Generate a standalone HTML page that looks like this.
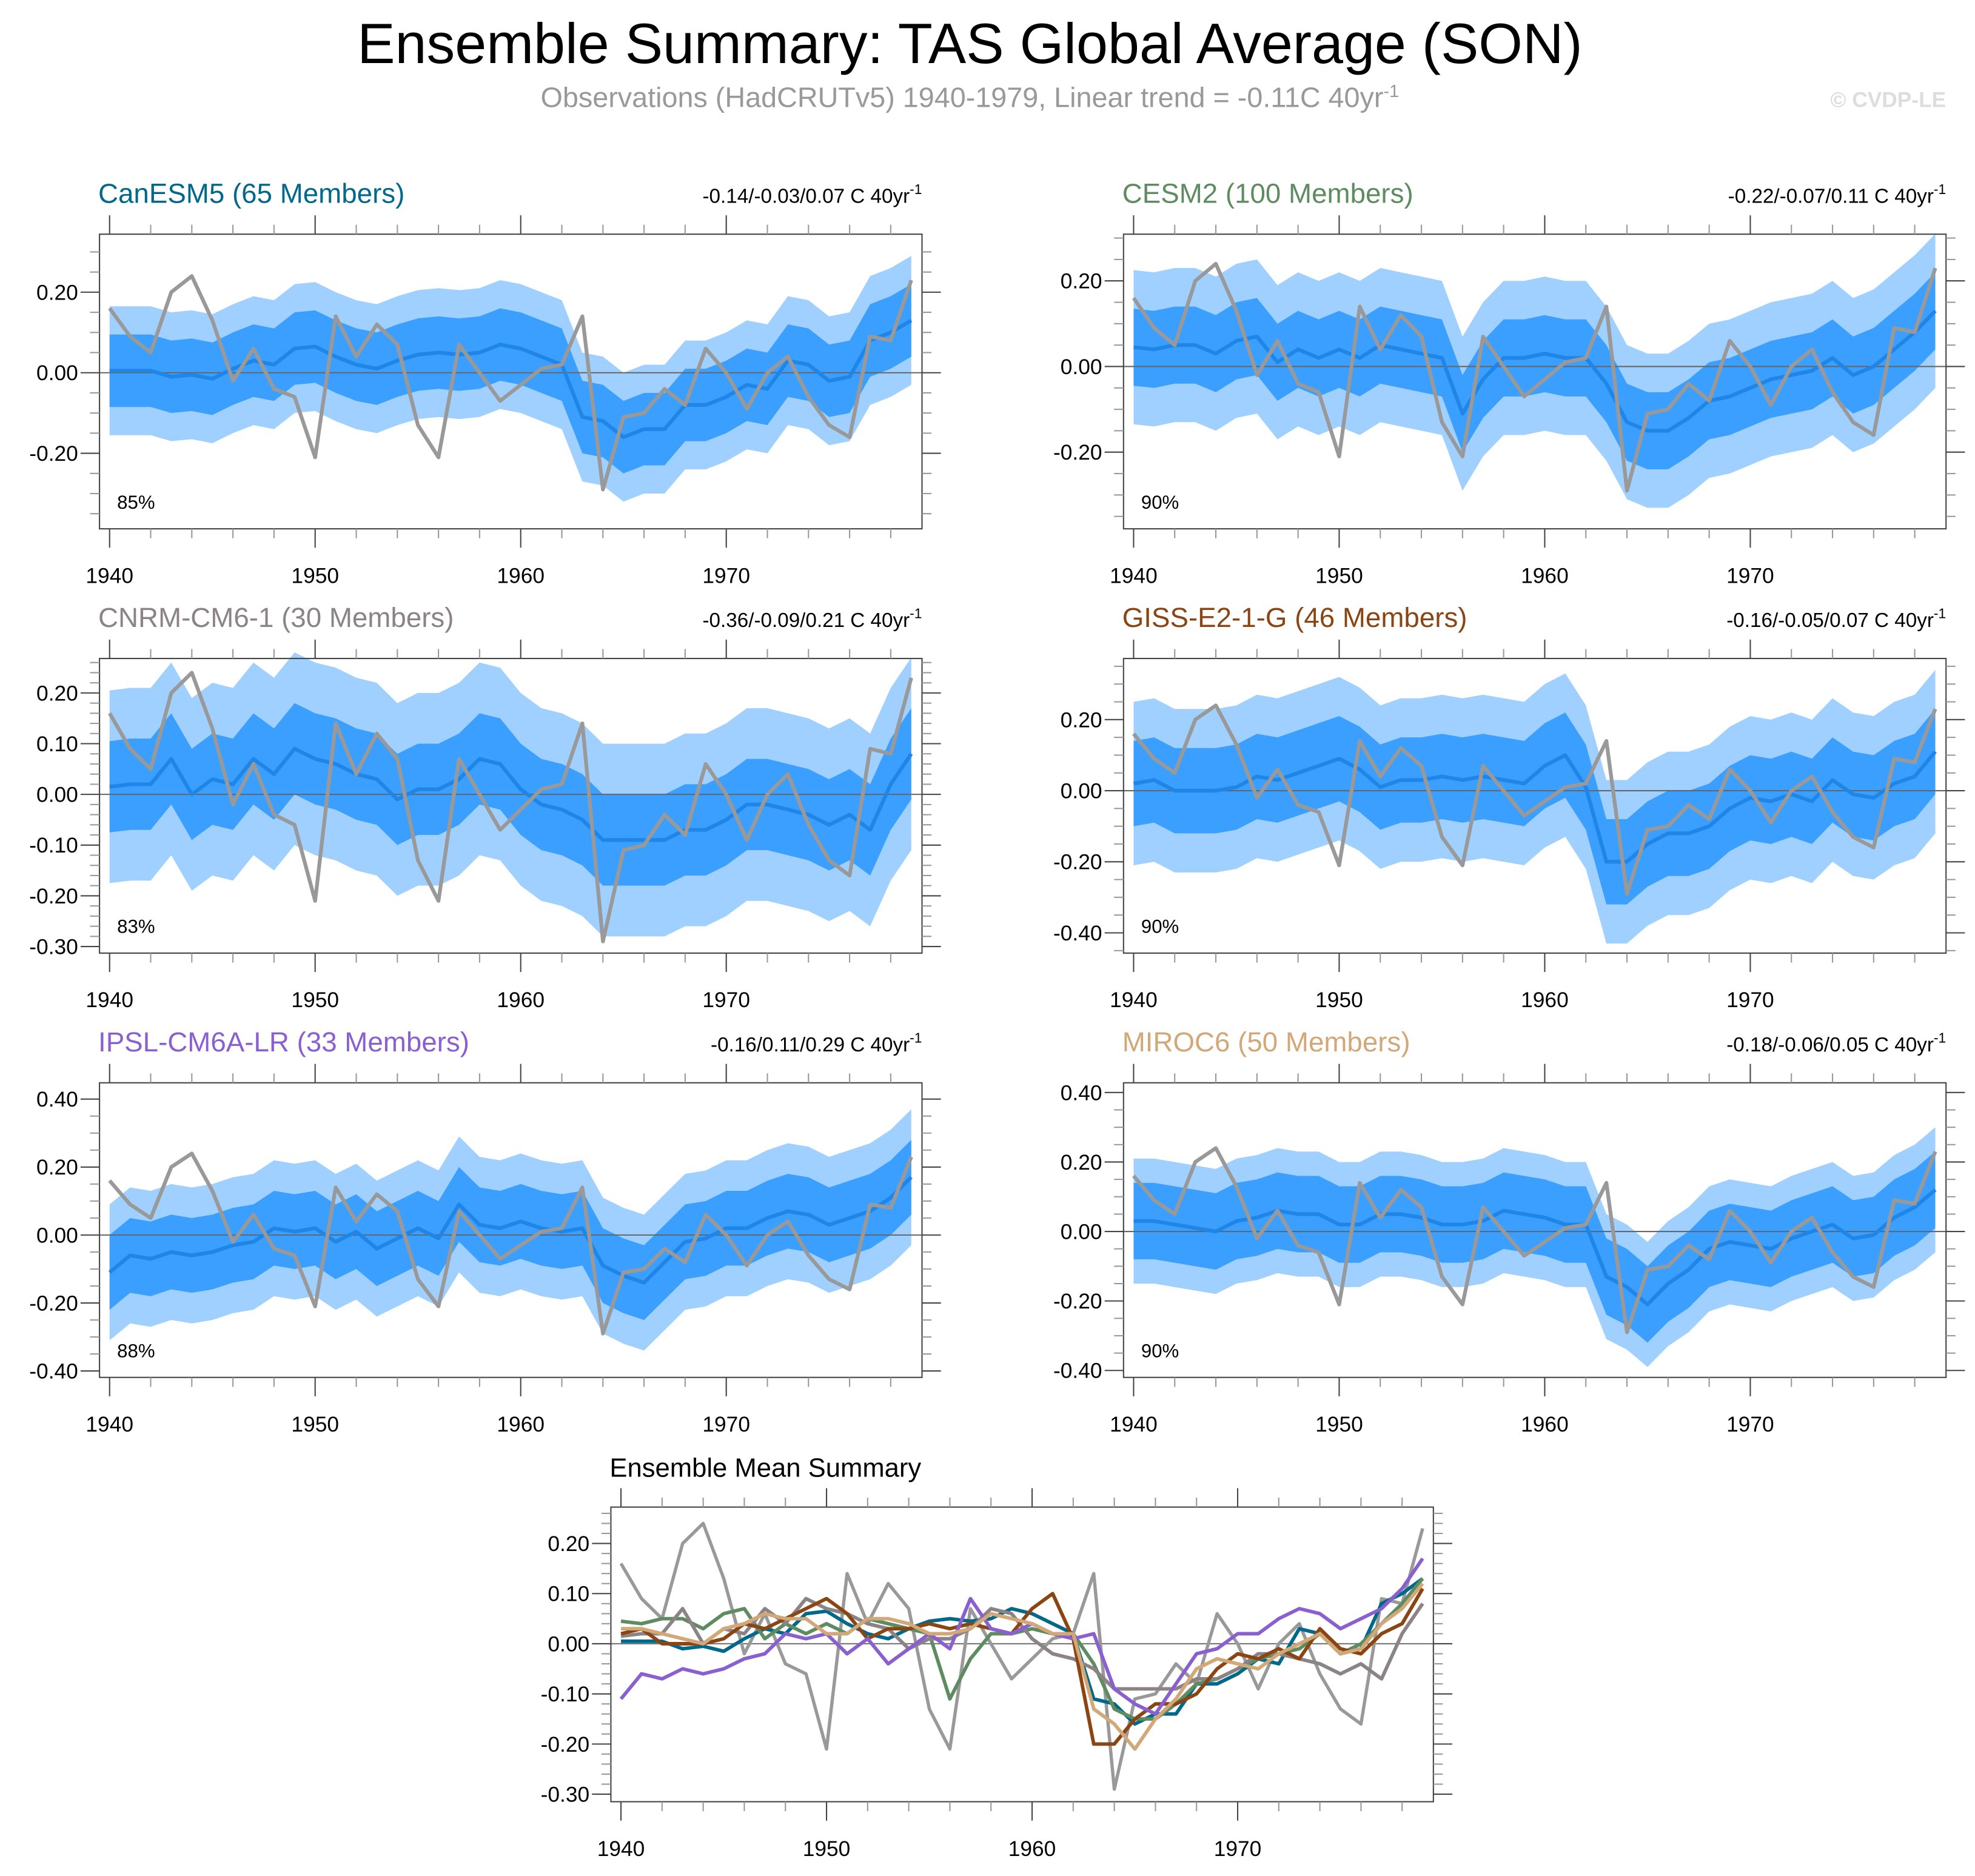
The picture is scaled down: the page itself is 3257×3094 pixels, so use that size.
<!DOCTYPE html>
<html><head><meta charset="utf-8"><title>Ensemble Summary</title>
<style>html,body{margin:0;padding:0;background:#fff}svg{display:block}text{font-family:"Liberation Sans",sans-serif}</style>
</head><body>
<svg id="chart" xmlns="http://www.w3.org/2000/svg" width="3257" height="3094" viewBox="0 0 1568 1490" preserveAspectRatio="none">
<text x="770" y="50" font-size="45" text-anchor="middle" fill="#000">Ensemble Summary: TAS Global Average (SON)</text>
<text x="770" y="85" font-size="22.5" text-anchor="middle" fill="#999">Observations (HadCRUTv5) 1940-1979, Linear trend = -0.11C 40yr<tspan dy="-8" font-size="14">-1</tspan></text>
<text x="1545" y="85" font-size="17" font-weight="bold" text-anchor="end" fill="#ddd">© CVDP-LE</text>
<g id="plots"></g>
</svg>
<script>
const years = [];
for (let y = 1940; y <= 1979; y++) years.push(y);
const obs = [0.16,0.09,0.05,0.20,0.24,0.13,-0.02,0.06,-0.04,-0.06,-0.21,0.14,0.04,0.12,0.07,-0.13,-0.21,0.07,0.00,-0.07,-0.03,0.01,0.02,0.14,-0.29,-0.11,-0.10,-0.04,-0.08,0.06,0.00,-0.09,0.00,0.04,-0.06,-0.13,-0.16,0.09,0.08,0.23];
const meanCanESM5 = [0.005,0.005,0.005,-0.01,-0.005,-0.015,0.01,0.03,0.02,0.06,0.065,0.04,0.02,0.01,0.03,0.045,0.05,0.045,0.05,0.07,0.06,0.04,0.02,-0.11,-0.12,-0.16,-0.14,-0.14,-0.08,-0.08,-0.06,-0.03,-0.04,0.03,0.02,-0.02,-0.01,0.08,0.10,0.13];
const meanCESM2 = [0.045,0.04,0.05,0.05,0.03,0.06,0.07,0.01,0.04,0.02,0.04,0.02,0.05,0.04,0.03,0.02,-0.11,-0.03,0.02,0.02,0.03,0.02,0.02,-0.04,-0.13,-0.15,-0.15,-0.12,-0.08,-0.07,-0.05,-0.03,-0.02,-0.01,0.02,-0.02,0.00,0.04,0.08,0.13];
const meanCNRM = [0.015,0.02,0.02,0.07,0.0,0.03,0.02,0.07,0.04,0.09,0.07,0.06,0.04,0.03,-0.01,0.01,0.01,0.03,0.07,0.06,0.01,-0.02,-0.03,-0.05,-0.09,-0.09,-0.09,-0.09,-0.07,-0.07,-0.05,-0.02,-0.02,-0.03,-0.04,-0.06,-0.04,-0.07,0.02,0.08];
const meanGISS = [0.02,0.03,0.0,0.0,0.0,0.01,0.04,0.03,0.05,0.07,0.09,0.06,0.01,0.03,0.03,0.04,0.03,0.04,0.03,0.02,0.07,0.10,0.01,-0.20,-0.20,-0.15,-0.12,-0.12,-0.10,-0.05,-0.02,-0.03,-0.01,-0.03,0.03,-0.01,-0.02,0.02,0.04,0.11];
const meanIPSL = [-0.11,-0.06,-0.07,-0.05,-0.06,-0.05,-0.03,-0.02,0.02,0.01,0.02,-0.02,0.01,-0.04,-0.01,0.02,-0.01,0.09,0.03,0.02,0.04,0.02,0.01,0.02,-0.09,-0.12,-0.14,-0.08,-0.02,-0.01,0.02,0.02,0.05,0.07,0.06,0.03,0.05,0.07,0.11,0.17];
const meanMIROC6 = [0.03,0.03,0.02,0.01,0.0,0.03,0.04,0.06,0.05,0.05,0.02,0.02,0.05,0.05,0.04,0.02,0.02,0.03,0.06,0.05,0.04,0.02,0.02,-0.13,-0.16,-0.21,-0.15,-0.11,-0.05,-0.03,-0.04,-0.05,-0.02,0.0,0.02,-0.02,-0.01,0.04,0.07,0.12];
const innerSpread = [0.09,0.09,0.09,0.12,0.11,0.11];
const outerSpread = [0.16,0.18,0.19,0.23,0.20,0.18];
const modelNames = ["CanESM5 (65 Members)","CESM2 (100 Members)","CNRM-CM6-1 (30 Members)","GISS-E2-1-G (46 Members)","IPSL-CM6A-LR (33 Members)","MIROC6 (50 Members)"];
const trendLabels = ["-0.14/-0.03/0.07","-0.22/-0.07/0.11","-0.36/-0.09/0.21","-0.16/-0.05/0.07","-0.16/0.11/0.29","-0.18/-0.06/0.05"];
const pctLabels = ["85%","90%","83%","90%","88%","90%"];
const means = [meanCanESM5,meanCESM2,meanCNRM,meanGISS,meanIPSL,meanMIROC6];
const colors = ["#00688b","#5e8c60","#8b8385","#8b4513","#8a60d0","#d2a878"];

const NS = "http://www.w3.org/2000/svg";
const root = document.getElementById('plots');
function mk(tag, attrs, parent){const e=document.createElementNS(NS,tag);for(const k in attrs)e.setAttribute(k,attrs[k]);(parent||root).appendChild(e);return e;}

const panels = [
 {bx:79,by:186,yMin:-0.3875,yMax:0.344,major:0.2,minor:0.05},
 {bx:892,by:186,yMin:-0.379,yMax:0.309,major:0.2,minor:0.05},
 {bx:79,by:523,yMin:-0.313,yMax:0.268,major:0.1,minor:0.02},
 {bx:892,by:523,yMin:-0.457,yMax:0.372,major:0.2,minor:0.05},
 {bx:79,by:860,yMin:-0.419,yMax:0.448,major:0.2,minor:0.05},
 {bx:892,by:860,yMin:-0.42,yMax:0.428,major:0.2,minor:0.05}
];
const W=653,H=234;

function axes(g,p,xs,ys){
  const bx=p.bx,by=p.by;
  const nMin=Math.ceil(p.yMin/p.minor-1e-6), nMax=Math.floor(p.yMax/p.minor+1e-6);
  for(let i=nMin;i<=nMax;i++){
    const v=i*p.minor; const y=ys(v);
    const isMaj=Math.abs(v/p.major-Math.round(v/p.major))<1e-6;
    const L=isMaj?15:7.5;
    mk('line',{x1:bx-L,x2:bx,y1:y,y2:y,stroke:isMaj?'#444':'#999','stroke-width':1},g);
    mk('line',{x1:bx+W,x2:bx+W+L,y1:y,y2:y,stroke:isMaj?'#444':'#999','stroke-width':1},g);
    if(isMaj){const t=mk('text',{x:bx-17,y:y+6,'font-size':17,'text-anchor':'end',fill:'#000'},g);t.textContent=v.toFixed(2);
      
      }
  }
  for(let yr=1940;yr<=1979;yr+=2){
    const x=xs(yr);const maj=yr%10===0;const L=maj?15:7.5;
    mk('line',{x1:x,x2:x,y1:by-L,y2:by,stroke:maj?'#444':'#999','stroke-width':1},g);
    mk('line',{x1:x,x2:x,y1:by+H,y2:by+H+L,stroke:maj?'#444':'#999','stroke-width':1},g);
    if(maj){const t=mk('text',{x:x,y:by+H+43,'font-size':17,'text-anchor':'middle',fill:'#000'},g);t.textContent=yr;
      
      }
  }
}
function linePath(arr,xs,ys){return arr.map((v,i)=>(i?'L':'M')+xs(years[i]).toFixed(2)+','+ys(v).toFixed(2)).join('');}
function bandPath(arr,w,xs,ys){
  let d=arr.map((v,i)=>(i?'L':'M')+xs(years[i]).toFixed(2)+','+ys(v+w).toFixed(2)).join('');
  for(let i=arr.length-1;i>=0;i--)d+='L'+xs(years[i]).toFixed(2)+','+ys(arr[i]-w).toFixed(2);
  return d+'Z';
}

panels.forEach((p,k)=>{
  const g=mk('g',{});
  
  
  const xs=yr=>p.bx+8+(yr-1940)*16.32;
  const ys=v=>p.by+(p.yMax-v)/(p.yMax-p.yMin)*H;
  const t=mk('text',{x:p.bx-1,y:p.by-25,'font-size':22,fill:colors[k]},g);t.textContent=modelNames[k];
  
  
  const tr=mk('text',{x:p.bx+W,y:p.by-25,'font-size':16,'text-anchor':'end',fill:'#000'},g);
  tr.innerHTML=trendLabels[k]+' C 40yr<tspan dy="-7" font-size="11">-1</tspan>';
  
  
  const ob=mk('path',{d:bandPath(means[k],outerSpread[k],xs,ys),fill:'#a0d0ff'},g);
  
  
  const ib=mk('path',{d:bandPath(means[k],innerSpread[k],xs,ys),fill:'#3a9fff'},g);
  
  
  mk('line',{x1:p.bx,x2:p.bx+W,y1:ys(0),y2:ys(0),stroke:'#666','stroke-width':1},g);
  const ml=mk('path',{d:linePath(means[k],xs,ys),fill:'none',stroke:'#1f86e8','stroke-width':3,'stroke-linejoin':'round'},g);
  
  
  const ol=mk('path',{d:linePath(obs,xs,ys),fill:'none',stroke:'#999','stroke-width':3,'stroke-linejoin':'round'},g);
  
  
  mk('rect',{x:p.bx,y:p.by,width:W,height:H,fill:'none',stroke:'#444','stroke-width':1},g);
  axes(g,p,xs,ys);
  const pc=mk('text',{x:p.bx+14,y:p.by+H-16,'font-size':15,fill:'#000'},g);pc.textContent=pctLabels[k];
  
  
});

(function(){
  const p={bx:485,by:1197,yMin:-0.315,yMax:0.2725,major:0.1,minor:0.02};
  const g=mk('g',{});
  
  
  const xs=yr=>p.bx+8+(yr-1940)*16.32;
  const ys=v=>p.by+(p.yMax-v)/(p.yMax-p.yMin)*H;
  const t=mk('text',{x:p.bx-1,y:p.by-24,'font-size':21,fill:'#000'},g);t.textContent='Ensemble Mean Summary';
  
  
  mk('line',{x1:p.bx,x2:p.bx+W,y1:ys(0),y2:ys(0),stroke:'#777','stroke-width':1},g);
  const ol=mk('path',{d:linePath(obs,xs,ys),fill:'none',stroke:'#999','stroke-width':2.6,'stroke-linejoin':'round'},g);
  
  
  means.forEach((m,k)=>{
    const l=mk('path',{d:linePath(m,xs,ys),fill:'none',stroke:colors[k],'stroke-width':2.8,'stroke-linejoin':'round'},g);
    
    
  });
  mk('rect',{x:p.bx,y:p.by,width:W,height:H,fill:'none',stroke:'#444','stroke-width':1},g);
  axes(g,p,xs,ys);
})();
</script>
</body></html>
